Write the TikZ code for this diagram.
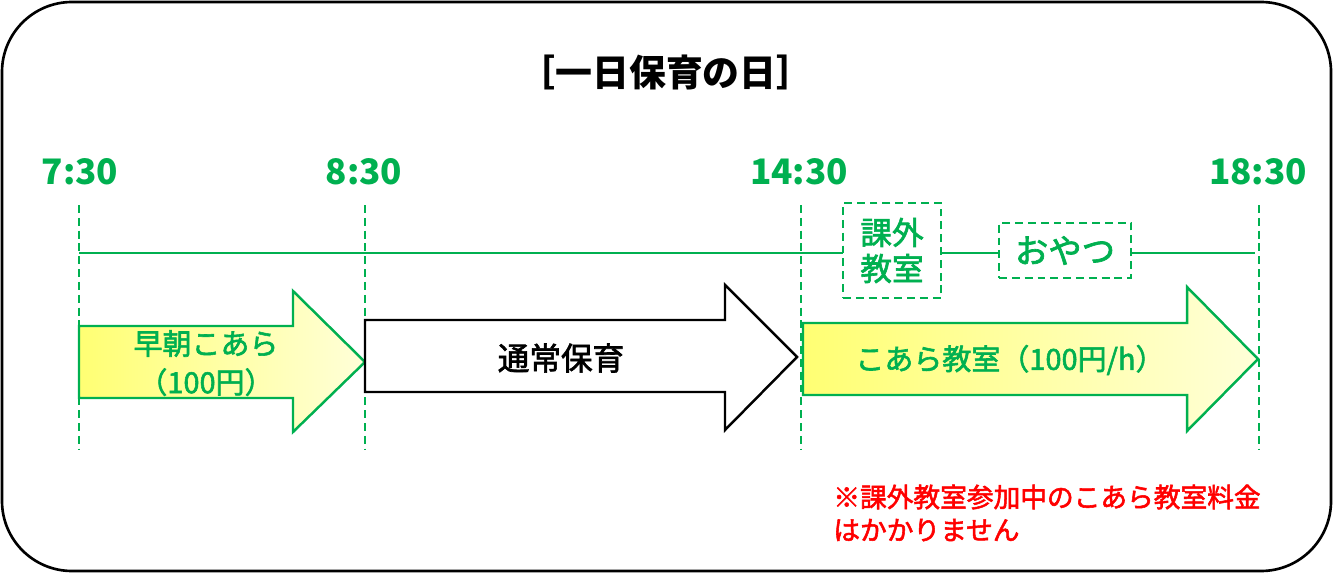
\documentclass[tikz,border=0pt]{standalone}
\usepackage{fontspec}
\setmainfont{Noto Sans CJK JP}
\newfontfamily\medfont{Noto Sans CJK JP}[FakeBold=2]
\usetikzlibrary{positioning}
\definecolor{kgreen}{RGB}{0,176,80}
\definecolor{kred}{RGB}{255,0,0}

\begin{document}
\begin{tikzpicture}[
  x=0.02cm, y=-0.02cm,
  every node/.style={inner sep=0pt},
  frame/.style={draw=black, line width=1.5pt, rounded corners=1.4cm},
  title/.style={font=\fontsize{21}{24}\selectfont\bfseries},
  time/.style={text=kgreen, font=\fontsize{20}{24}\selectfont\bfseries},
  guide/.style={draw=kgreen, line width=1.4pt, dash pattern=on 4.5pt off 2.8pt},
  axis/.style={draw=kgreen, line width=1.4pt},
  koala/.style={draw=kgreen, line width=1.4pt, left color=yellow!55, right color=yellow!15},
  regular/.style={draw=black, line width=1.4pt, fill=white},
  lab/.style={align=center, font=\fontsize{16.5}{22}\selectfont\medfont},
  tag/.style={draw=kgreen, fill=white, line width=1.4pt, dash pattern=on 4.5pt off 2.8pt,
              text=kgreen, align=center},
  note/.style={text=kred, align=left, font=\fontsize{15.2}{18.7}\selectfont\medfont}
]
\path[use as bounding box] (0,0) rectangle (1334,574);

% Frame and title
\draw[frame] (2,2) rectangle (1331,571);
\node[title] (title) at (666,72) {［一日保育の日］};

% Times
\node[time] (t730)  at (80,172)   {7:30};
\node[time] (t830)  at (364,172)  {8:30};
\node[time] (t1430) at (799,172)  {14:30};
\node[time] (t1830) at (1258,172) {18:30};

% Guide lines
\coordinate (g730a)  at (79,205);   \coordinate (g730b)  at (79,450);
\coordinate (g830a)  at (365,205);  \coordinate (g830b)  at (365,450);
\coordinate (g1430a) at (801,205);  \coordinate (g1430b) at (801,450);
\coordinate (g1830a) at (1259,205); \coordinate (g1830b) at (1259,450);
\draw[guide] (g730a) -- (g730b);
\draw[guide] (g830a) -- (g830b);
\draw[guide] (g1430a) -- (g1430b);
\draw[guide] (g1830a) -- (g1830b);

% Time axis
\coordinate (axL) at (79,253);
\coordinate (axR) at (1255,253);
\draw[axis] (axL) -- (axR);

% Block arrows
\path[koala] (79,326) -- (293,326) -- (293,291) -- (365,362) -- (293,432) -- (293,398) -- (79,398) -- cycle;
\path[regular] (365,320) -- (725,320) -- (725,285) -- (797,357) -- (725,430) -- (725,392) -- (365,392) -- cycle;
\path[koala] (803,323) -- (1187,323) -- (1187,287) -- (1258,359) -- (1187,431) -- (1187,395) -- (803,395) -- cycle;

\node[lab, text=kgreen] (early) at (206,363) {早朝こあら\\（100円）};
\node[lab, font=\fontsize{18}{22}\selectfont\medfont] (normal) at (561,358) {通常保育};
\node[lab, text=kgreen, font=\fontsize{16.5}{20}\selectfont\medfont] (late) at (1010,360) {こあら教室（100円/h）};

% Tags on the axis
\node[tag, minimum width=1.96cm, minimum height=1.9cm, font=\fontsize{18}{20.5}\selectfont\medfont]
  (lesson) at (892,250.5) {課外\\教室};
\node[tag, minimum width=2.64cm, minimum height=1.1cm, font=\fontsize{19}{22}\selectfont\medfont]
  (snack) at (1065,250.5) {おやつ};

% Note
\node[note, anchor=west] (fee) at (833,513) {※課外教室参加中のこあら教室料金\\はかかりません};
\end{tikzpicture}
\end{document}
